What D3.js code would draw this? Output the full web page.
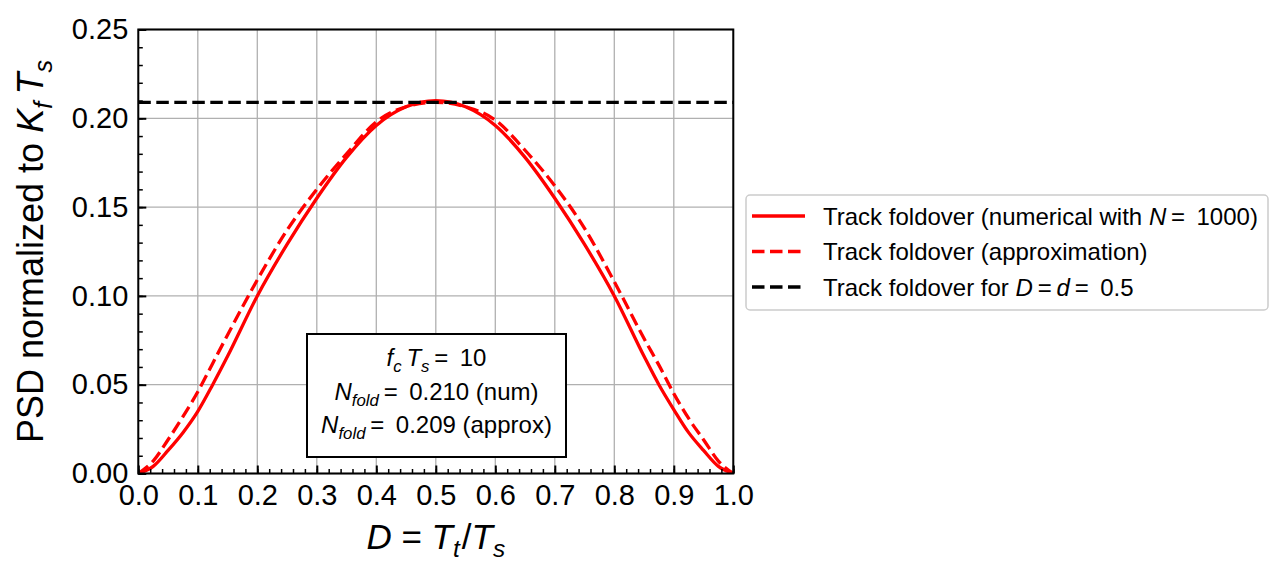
<!DOCTYPE html>
<html>
<head>
<meta charset="utf-8">
<script src="https://cdn.jsdelivr.net/npm/d3@7"></script>
<style>
  body { margin: 0; background: #fff; }
  svg { font-family: "Liberation Sans", Arial, sans-serif; }
</style>
</head>
<body>
<script>
// duty cycle D = Tt/Ts
const dValues = [0, 0.025, 0.05, 0.075, 0.1, 0.125, 0.15, 0.2, 0.25, 0.3, 0.35, 0.4, 0.45, 0.5,
                 0.55, 0.6, 0.65, 0.7, 0.75, 0.8, 0.85, 0.875, 0.9, 0.925, 0.95, 0.975, 1.0];
// PSD normalized to Kf Ts
const psdNumerical = [0, 0.004, 0.013, 0.023, 0.035, 0.050, 0.066, 0.100, 0.129, 0.155, 0.178, 0.196, 0.2065, 0.210,
                      0.2065, 0.196, 0.178, 0.155, 0.129, 0.100, 0.066, 0.050, 0.036, 0.023, 0.013, 0.004, 0];
const psdApprox = [0, 0.007, 0.019, 0.032, 0.046, 0.062, 0.078, 0.109, 0.137, 0.160, 0.180, 0.198, 0.2065, 0.209,
                   0.2065, 0.199, 0.182, 0.162, 0.138, 0.108, 0.076, 0.061, 0.045, 0.031, 0.019, 0.007, 0];
const foldoverHalf = 0.209;

const xTicks = [0, 0.1, 0.2, 0.3, 0.4, 0.5, 0.6, 0.7, 0.8, 0.9, 1.0];
const yTicks = [0, 0.05, 0.10, 0.15, 0.20, 0.25];
const xMinor = d3.range(0, 1.0001, 0.02);
const yMinor = d3.range(0, 0.25001, 0.01);

const margin = {top: 29.5, left: 138.3};
const width = 595, height = 444;

const svg = d3.select('body').append('svg')
    .attr('width', 1286)
    .attr('height', 583);

const g = svg.append('g')
    .attr('transform', `translate(${margin.left}, ${margin.top})`);

const x = d3.scaleLinear().domain([0, 1]).range([0, width]);
const y = d3.scaleLinear().domain([0, 0.25]).range([height, 0]);

// grid
g.append('g').selectAll('line').data(xTicks).enter().append('line')
    .attr('x1', d => x(d)).attr('x2', d => x(d))
    .attr('y1', 0).attr('y2', height)
    .attr('stroke', '#b0b0b0').attr('stroke-width', 1.3);
g.append('g').selectAll('line').data(yTicks).enter().append('line')
    .attr('y1', d => y(d)).attr('y2', d => y(d))
    .attr('x1', 0).attr('x2', width)
    .attr('stroke', '#b0b0b0').attr('stroke-width', 1.3);

// curves
svg.append('defs').append('clipPath').attr('id', 'clip')
    .append('rect').attr('width', width).attr('height', height);

const plot = g.append('g').attr('clip-path', 'url(#clip)');

const line = d3.line()
    .x((d, i) => x(dValues[i]))
    .y(d => y(d))
    .curve(d3.curveMonotoneX);

plot.append('path')
    .attr('d', line(psdNumerical))
    .attr('fill', 'none').attr('stroke', '#ff0000').attr('stroke-width', 3.3);

plot.append('path')
    .attr('d', line(psdApprox))
    .attr('fill', 'none').attr('stroke', '#ff0000').attr('stroke-width', 3.3)
    .attr('stroke-dasharray', '12.5,5.5');

plot.append('line')
    .attr('x1', x(0)).attr('x2', x(1))
    .attr('y1', y(foldoverHalf)).attr('y2', y(foldoverHalf))
    .attr('stroke', '#000').attr('stroke-width', 3.3)
    .attr('stroke-dasharray', '12.5,5.5');

// axes (ticks inward, left & bottom only)
const xAxis = d3.axisBottom(x).tickValues(xTicks)
    .tickFormat(d3.format('.1f')).tickSizeInner(-8).tickSizeOuter(0).tickPadding(11);
const yAxis = d3.axisLeft(y).tickValues(yTicks)
    .tickFormat(d3.format('.2f')).tickSizeInner(-8).tickSizeOuter(0).tickPadding(10);

const xAxisGroup = g.append('g')
    .attr('transform', `translate(0, ${height})`)
    .call(xAxis);
const yAxisGroup = g.append('g').call(yAxis);

g.append('g').attr('transform', `translate(0, ${height})`)
    .call(d3.axisBottom(x).tickValues(xMinor).tickFormat('').tickSizeInner(-4.5).tickSizeOuter(0))
    .call(a => a.select('.domain').remove())
    .selectAll('line').attr('stroke-width', 1.5);
g.append('g')
    .call(d3.axisLeft(y).tickValues(yMinor).tickFormat('').tickSizeInner(-4.5).tickSizeOuter(0))
    .call(a => a.select('.domain').remove())
    .selectAll('line').attr('stroke-width', 1.5);

[xAxisGroup, yAxisGroup].forEach(a => {
    a.select('.domain').remove();
    a.selectAll('line').attr('stroke-width', 2);
    a.selectAll('text').attr('font-size', 29).attr('fill', '#000')
        .style('font-family', '"Liberation Sans", Arial, sans-serif');
});
xAxisGroup.selectAll('text').attr('dy', '0.71em');

// frame
g.append('rect')
    .attr('width', width).attr('height', height)
    .attr('fill', 'none').attr('stroke', '#000').attr('stroke-width', 2);

// rich text helper: parts = [{t, i, sub}]
function rich(sel, parts, fs) {
    let down = false;
    const shift = fs * 0.24;
    parts.forEach(p => {
        const ts = sel.append('tspan').text(p.t);
        if (p.i) ts.attr('font-style', 'italic');
        if (p.sub) {
            ts.attr('font-size', fs * 0.7);
            if (!down) { ts.attr('dy', shift); down = true; }
        } else if (down) {
            ts.attr('dy', -shift); down = false;
        }
    });
}

// axis labels
const xLabel = svg.append('text')
    .attr('x', margin.left + width / 2).attr('y', 549)
    .attr('text-anchor', 'middle').attr('font-size', 35);
rich(xLabel, [{t: 'D', i: true}, {t: ' = '}, {t: 'T', i: true}, {t: 't\u200a', i: true, sub: true},
              {t: '/'}, {t: 'T', i: true}, {t: 's', i: true, sub: true}], 35);

const yLabel = svg.append('text')
    .attr('transform', `translate(43, ${margin.top + height / 2}) rotate(-90)`)
    .attr('text-anchor', 'middle').attr('font-size', 36);
rich(yLabel, [{t: 'PSD normalized to '}, {t: 'K', i: true}, {t: 'f', i: true, sub: true},
              {t: '\u2009'}, {t: 'T', i: true}, {t: 's', i: true, sub: true}], 36);

// annotation box
const box = svg.append('g');
box.append('rect')
    .attr('x', 307).attr('y', 334).attr('width', 259).attr('height', 123)
    .attr('fill', '#fff').attr('stroke', '#000').attr('stroke-width', 2);
const boxLines = [
    [{t: 'f', i: true}, {t: 'c', i: true, sub: true}, {t: '\u2009'}, {t: 'T', i: true}, {t: 's', i: true, sub: true}, {t: '\u2009=\u2009 10'}],
    [{t: 'N', i: true}, {t: 'fold', i: true, sub: true}, {t: '\u2009=\u2009 0.210 (num)'}],
    [{t: 'N', i: true}, {t: 'fold', i: true, sub: true}, {t: '\u2009=\u2009 0.209 (approx)'}]
];
const boxBaselines = [366, 400, 433];
boxLines.forEach((parts, k) => {
    const t = box.append('text')
        .attr('x', 436.5).attr('y', boxBaselines[k])
        .attr('text-anchor', 'middle').attr('font-size', 24);
    rich(t, parts, 24);
});

// legend
const legendItems = [
    {parts: [{t: 'Track foldover (numerical with '}, {t: 'N', i: true}, {t: '\u2009=\u2009 1000)'}], color: '#ff0000', dash: null},
    {parts: [{t: 'Track foldover (approximation)'}], color: '#ff0000', dash: '12.5,5.5'},
    {parts: [{t: 'Track foldover for '}, {t: 'D', i: true}, {t: '\u2009=\u2009'}, {t: 'd', i: true}, {t: '\u2009=\u2009 0.5'}], color: '#000', dash: '12.5,5.5'}
];
const legend = svg.append('g');
legend.append('rect')
    .attr('x', 746).attr('y', 195).attr('width', 522).attr('height', 115).attr('rx', 4)
    .attr('fill', '#fff').attr('fill-opacity', 0.8)
    .attr('stroke', '#cccccc').attr('stroke-width', 1.5);
const rowY = [216, 251.5, 287];
legendItems.forEach((item, k) => {
    legend.append('line')
        .attr('x1', 752).attr('x2', 805)
        .attr('y1', rowY[k]).attr('y2', rowY[k])
        .attr('stroke', item.color).attr('stroke-width', 3.3)
        .attr('stroke-dasharray', item.dash);
    const t = legend.append('text')
        .attr('x', 823).attr('y', rowY[k] + 8.5)
        .attr('font-size', 24);
    rich(t, item.parts, 24);
});
</script>
</body>
</html>
